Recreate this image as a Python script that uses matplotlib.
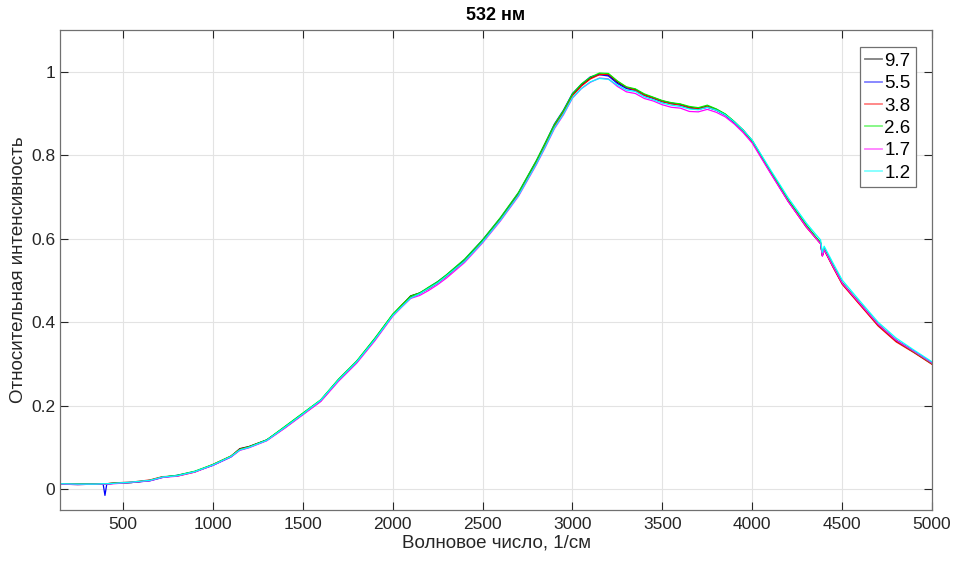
import numpy as np
import matplotlib.pyplot as plt

plt.switch_backend('agg')
plt.rcParams['font.family'] = ['Liberation Sans', 'DejaVu Sans']

# DATA: wavenumber grid and relative intensity for each series
wn = [150, 250, 350, 390, 400, 410, 450, 550, 650, 720,
      800, 900, 1000, 1100, 1150, 1200, 1300, 1400, 1500, 1600,
      1700, 1800, 1900, 2000, 2050, 2100, 2150, 2200, 2250, 2300,
      2400, 2500, 2600, 2700, 2800, 2850, 2900, 2950, 3000, 3050,
      3100, 3150, 3200, 3250, 3300, 3350, 3400, 3450, 3500, 3550,
      3600, 3650, 3700, 3750, 3800, 3850, 3900, 3950, 4000, 4100,
      4200, 4300, 4350, 4380, 4390, 4400, 4450, 4500, 4600, 4700,
      4800, 4900, 5000]

y_97 = [0.012, 0.011, 0.012, 0.013, 0.013, 0.013, 0.014, 0.016, 0.021, 0.029,
        0.032, 0.042, 0.058, 0.078, 0.097, 0.102, 0.118, 0.148, 0.180, 0.212,
        0.262, 0.305, 0.358, 0.418, 0.440, 0.463, 0.470, 0.482, 0.495, 0.512,
        0.548, 0.595, 0.648, 0.708, 0.785, 0.828, 0.872, 0.905, 0.945, 0.968,
        0.985, 0.995, 0.992, 0.975, 0.962, 0.958, 0.945, 0.938, 0.930, 0.925,
        0.922, 0.915, 0.912, 0.918, 0.910, 0.898, 0.880, 0.860, 0.835, 0.762,
        0.692, 0.632, 0.605, 0.590, 0.560, 0.575, 0.533, 0.493, 0.443, 0.393,
        0.355, 0.328, 0.300]

y_55 = [0.012, 0.012, 0.013, 0.012, -0.015, 0.012, 0.014, 0.016, 0.020, 0.028,
        0.033, 0.042, 0.057, 0.077, 0.094, 0.100, 0.117, 0.149, 0.181, 0.213,
        0.263, 0.306, 0.360, 0.417, 0.438, 0.458, 0.468, 0.483, 0.497, 0.513,
        0.550, 0.597, 0.650, 0.710, 0.787, 0.830, 0.875, 0.908, 0.948, 0.970,
        0.988, 0.993, 0.990, 0.972, 0.960, 0.955, 0.943, 0.936, 0.928, 0.924,
        0.920, 0.913, 0.910, 0.915, 0.908, 0.896, 0.878, 0.858, 0.833, 0.760,
        0.690, 0.630, 0.604, 0.589, 0.560, 0.574, 0.534, 0.494, 0.444, 0.394,
        0.357, 0.330, 0.302]

y_38 = [0.013, 0.012, 0.012, 0.013, 0.013, 0.013, 0.015, 0.017, 0.022, 0.030,
        0.031, 0.041, 0.059, 0.079, 0.096, 0.101, 0.117, 0.147, 0.179, 0.211,
        0.261, 0.304, 0.357, 0.416, 0.441, 0.461, 0.469, 0.480, 0.494, 0.510,
        0.546, 0.593, 0.646, 0.706, 0.783, 0.826, 0.870, 0.903, 0.943, 0.966,
        0.983, 0.993, 0.994, 0.977, 0.963, 0.956, 0.944, 0.937, 0.929, 0.923,
        0.921, 0.914, 0.911, 0.917, 0.909, 0.897, 0.879, 0.857, 0.832, 0.760,
        0.690, 0.628, 0.603, 0.588, 0.559, 0.573, 0.531, 0.491, 0.441, 0.391,
        0.353, 0.327, 0.299]

y_26 = [0.012, 0.012, 0.013, 0.013, 0.013, 0.013, 0.014, 0.016, 0.021, 0.029,
        0.033, 0.043, 0.059, 0.079, 0.095, 0.101, 0.118, 0.150, 0.182, 0.214,
        0.264, 0.307, 0.361, 0.419, 0.441, 0.462, 0.470, 0.484, 0.497, 0.514,
        0.551, 0.597, 0.651, 0.711, 0.788, 0.831, 0.874, 0.907, 0.947, 0.971,
        0.987, 0.997, 0.996, 0.978, 0.964, 0.959, 0.947, 0.939, 0.931, 0.926,
        0.923, 0.917, 0.914, 0.920, 0.911, 0.899, 0.881, 0.859, 0.834, 0.763,
        0.693, 0.633, 0.606, 0.591, 0.562, 0.576, 0.535, 0.495, 0.445, 0.395,
        0.357, 0.329, 0.301]

y_17 = [0.012, 0.011, 0.012, 0.012, 0.012, 0.012, 0.013, 0.016, 0.020, 0.028,
        0.031, 0.041, 0.057, 0.077, 0.093, 0.099, 0.116, 0.146, 0.178, 0.210,
        0.259, 0.302, 0.355, 0.414, 0.436, 0.457, 0.464, 0.476, 0.490, 0.506,
        0.543, 0.590, 0.643, 0.702, 0.778, 0.820, 0.864, 0.897, 0.937, 0.960,
        0.975, 0.985, 0.983, 0.965, 0.952, 0.948, 0.936, 0.930, 0.921, 0.915,
        0.913, 0.905, 0.904, 0.910, 0.903, 0.892, 0.875, 0.854, 0.829, 0.758,
        0.689, 0.629, 0.603, 0.588, 0.558, 0.574, 0.533, 0.494, 0.444, 0.395,
        0.357, 0.330, 0.302]

y_12 = [0.013, 0.012, 0.012, 0.013, 0.013, 0.013, 0.014, 0.017, 0.021, 0.029,
        0.032, 0.042, 0.058, 0.078, 0.094, 0.100, 0.117, 0.148, 0.180, 0.213,
        0.262, 0.305, 0.358, 0.416, 0.437, 0.458, 0.468, 0.481, 0.494, 0.511,
        0.546, 0.592, 0.645, 0.704, 0.780, 0.822, 0.866, 0.899, 0.938, 0.960,
        0.976, 0.984, 0.982, 0.968, 0.956, 0.953, 0.940, 0.933, 0.925, 0.920,
        0.917, 0.911, 0.909, 0.915, 0.908, 0.897, 0.880, 0.860, 0.836, 0.766,
        0.698, 0.638, 0.612, 0.597, 0.567, 0.582, 0.541, 0.501, 0.450, 0.400,
        0.362, 0.333, 0.305]

labels = ['9.7', '5.5', '3.8', '2.6', '1.7', '1.2']
series = [y_97, y_55, y_38, y_26, y_17, y_12]
colors = ['black', 'blue', 'red', '#00ee00', 'magenta', 'cyan']

fig = plt.figure(figsize=(9.54, 5.62), dpi=100)
ax = fig.add_axes([0.0629, 0.0925, 0.9141, 0.854])

for ys, lab, c in zip(series, labels, colors):
    ax.plot(wn, ys, color=c, lw=0.9, label=lab)

ax.set_xlim(150, 5000)
ax.set_ylim(-0.05, 1.1)
ax.set_xticks(np.arange(500, 5001, 500))
ax.set_yticks([0, 0.2, 0.4, 0.6, 0.8, 1])
ax.set_yticklabels(['0', '0.2', '0.4', '0.6', '0.8', '1'])
ax.grid(True, color='#e3e3e3', lw=0.8)
ax.set_axisbelow(True)
ax.tick_params(direction='in', length=6, top=True, right=True, labelsize=12.5,
               colors='#262626', width=0.8)
ax.tick_params(axis='x', pad=5)
for s in ax.spines.values():
    s.set_color('#707070')
    s.set_linewidth(0.9)

ax.set_xlabel('Волновое число, 1/см', fontsize=13.5, color='#262626', labelpad=2)
ax.set_ylabel('Относительная интенсивность', fontsize=13.5, color='#262626', labelpad=3)
ax.set_title('532 нм', fontsize=13, fontweight='bold', pad=7)

leg = ax.legend(loc='upper right', bbox_to_anchor=(0.9817, 0.9646), borderaxespad=0,
                fontsize=13.5, handlelength=0.9, handletextpad=0.1, labelspacing=0.28,
                borderpad=0.3, fancybox=False, framealpha=1, edgecolor='#707070')
leg.get_frame().set_linewidth(0.9)
for h in leg.get_lines():
    h.set_alpha(0.5)
    h.set_linewidth(1.3)

plt.savefig('out.png', dpi=100)
